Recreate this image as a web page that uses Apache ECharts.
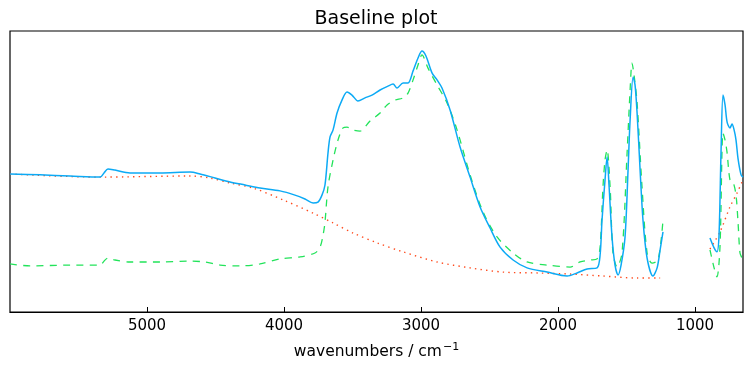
<!DOCTYPE html>
<html>
<head>
<meta charset="utf-8">
<script src="https://cdn.jsdelivr.net/npm/echarts@6/dist/echarts.min.js"></script>
<style>html,body{margin:0;padding:0;background:#fff}#c{width:752px;height:368px}</style>
</head>
<body>
<div id="c"></div>
<script>
// Measured spectrum (blue, solid)
var measWn = [6000,5781,5562,5343,5314,5285,5234,5124,4905,4686,4613,4504,4394,4285,4175,4029,3920,3847,3788,3752,3723,3701,3679,3664,3642,3613,3577,3540,3504,3460,3409,3358,3299,3241,3204,3175,3131,3095,3058,3022,2993,2964,2920,2883,2847,2788,2715,2642,2569,2496,2423,2328,2226,2080,1934,1861,1788,1715,1693,1679,1657,1642,1628,1606,1584,1562,1540,1511,1489,1474,1452,1438,1423,1401,1380,1350,1307,1277,1255,1234,1060,891,861,840,825,810,796,781,766,745,730,715,701,686,664,650];
var measVal = [0.491,0.488,0.484,0.480,0.495,0.509,0.505,0.495,0.495,0.498,0.491,0.477,0.463,0.452,0.441,0.431,0.416,0.402,0.388,0.391,0.416,0.452,0.566,0.623,0.648,0.708,0.754,0.783,0.772,0.751,0.762,0.772,0.790,0.804,0.811,0.797,0.815,0.815,0.858,0.904,0.929,0.911,0.851,0.826,0.797,0.719,0.587,0.480,0.374,0.299,0.231,0.185,0.157,0.142,0.128,0.139,0.153,0.157,0.203,0.327,0.470,0.552,0.452,0.267,0.167,0.132,0.167,0.267,0.505,0.683,0.836,0.808,0.708,0.505,0.327,0.192,0.128,0.157,0.221,0.285,null,0.263,0.228,0.214,0.274,0.577,0.772,0.737,0.676,0.655,0.669,0.648,0.612,0.545,0.488,0.480];
// Baseline-corrected spectrum (green, dashed)
var corrWn = [6000,5854,5562,5343,5314,5285,5234,5124,4905,4686,4577,4467,4321,4175,4029,3883,3774,3737,3715,3701,3679,3642,3606,3569,3540,3496,3445,3372,3299,3248,3190,3131,3095,3058,3022,2993,2949,2883,2810,2737,2642,2547,2445,2328,2226,2080,1912,1839,1766,1715,1693,1672,1657,1642,1620,1599,1569,1533,1496,1474,1460,1445,1423,1387,1350,1314,1270,1234,1060,891,861,840,818,796,781,766,745,723,701,686,672,657,650];
var corrVal = [0.171,0.164,0.167,0.167,0.181,0.192,0.185,0.178,0.178,0.181,0.178,0.167,0.164,0.171,0.189,0.196,0.210,0.231,0.274,0.320,0.445,0.541,0.612,0.655,0.658,0.648,0.644,0.680,0.708,0.737,0.754,0.762,0.779,0.826,0.879,0.915,0.868,0.808,0.744,0.648,0.488,0.356,0.267,0.210,0.178,0.167,0.160,0.178,0.185,0.189,0.231,0.445,0.541,0.577,0.445,0.210,0.160,0.210,0.566,0.790,0.886,0.843,0.744,0.445,0.210,0.174,0.185,0.327,null,0.221,0.157,0.125,0.231,0.637,0.612,0.566,0.470,0.463,0.416,0.317,0.210,0.192,0.185];
// Fitted baseline (red, dotted)
var baseWn = [6000,5343,4686,4540,4394,4226,4007,3788,3642,3496,3321,3131,2883,2642,2401,2153,1912,1672,1423,1255,1060,891,818,745,694,657,650];
var baseVal = [0.491,0.480,0.484,0.477,0.459,0.441,0.399,0.352,0.317,0.281,0.246,0.214,0.178,0.157,0.142,0.139,0.135,0.128,0.121,0.121,null,0.224,0.285,0.374,0.423,0.463,0.470];
var xTicks = [5000,4000,3000,2000,1000];
var titleText = 'Baseline plot';

function zip(a, b) { return a.map(function (x, i) { return [x, b[i]]; }); }

var chart = echarts.init(document.getElementById('c'), null, {renderer: 'canvas'});
chart.setOption({
  animation: false,
  title: {
    text: titleText, left: 'center', top: 5,
    textStyle: {fontFamily: 'DejaVu Sans', fontSize: 19, fontWeight: 'normal', color: '#000'}
  },
  grid: {left: 10, right: 9, top: 31, bottom: 56, show: true, borderColor: '#000', borderWidth: 1.2, backgroundColor: 'transparent'},
  xAxis: {
    type: 'value', inverse: true, min: 650, max: 6000,
    name: '{a|wavenumbers / cm}{s|−1}', nameLocation: 'middle', nameGap: 30,
    nameTextStyle: {rich: {
      a: {fontFamily: 'DejaVu Sans', fontSize: 15.5, color: '#000', verticalAlign: 'bottom', lineHeight: 18},
      s: {fontFamily: 'DejaVu Sans', fontSize: 11, color: '#000', verticalAlign: 'top', lineHeight: 18, padding: [0,0,8,1]}
    }},
    axisLine: {show: true, lineStyle: {color: '#000', width: 1.2}},
    axisTick: {show: true, inside: true, length: 5, customValues: xTicks, lineStyle: {color: '#000'}},
    axisLabel: {customValues: xTicks, formatter: function (v) { return String(v); },
      fontFamily: 'DejaVu Sans', fontSize: 15, color: '#000', margin: 7},
    splitLine: {show: false}
  },
  yAxis: {
    type: 'value', min: 0, max: 1,
    axisLine: {show: false}, axisTick: {show: false}, axisLabel: {show: false}, splitLine: {show: false}
  },
  series: [
    {type: 'line', data: zip(corrWn, corrVal), showSymbol: false, connectNulls: false, z: 2, smooth: 0.3,
     lineStyle: {color: '#22e35a', width: 1.3, type: [7, 6.3]}},
    {type: 'line', data: zip(baseWn, baseVal), showSymbol: false, connectNulls: false, z: 3, smooth: 0.3,
     lineStyle: {color: '#ff4a1c', width: 1.4, type: [1.4, 4.2]}},
    {type: 'line', data: zip(measWn, measVal), showSymbol: false, connectNulls: false, z: 4, smooth: 0.3,
     lineStyle: {color: '#0caaf5', width: 1.5}}
  ]
});
</script>
</body>
</html>
